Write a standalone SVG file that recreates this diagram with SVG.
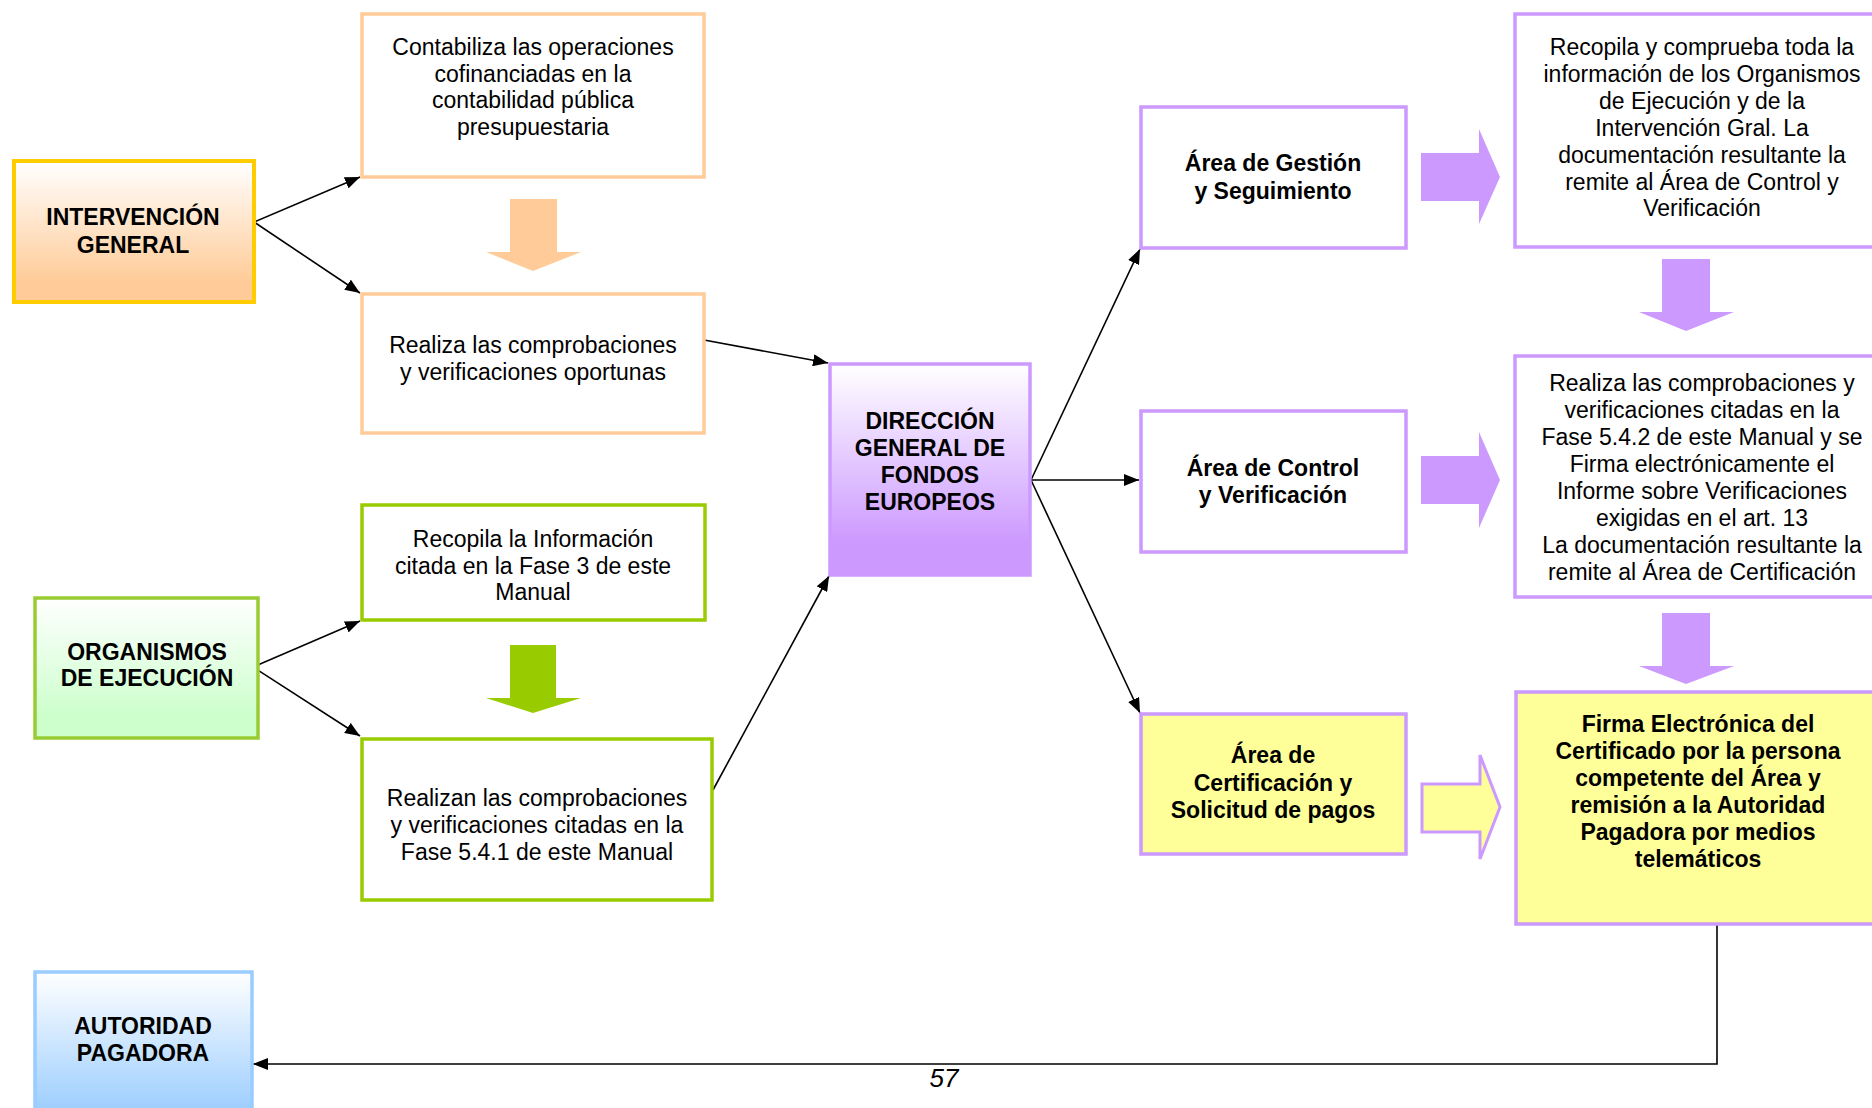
<svg xmlns="http://www.w3.org/2000/svg" width="1872" height="1108" viewBox="0 0 1872 1108">
<style>
text{font-family:"Liberation Sans",Arial,sans-serif;font-size:23px;fill:#000;text-anchor:middle}
.b{font-weight:bold}
.box{stroke-width:3.5}
.or{stroke:#FFCC99;fill:#fff}
.gr{stroke:#99CC00;fill:#fff}
.pu{stroke:#CC99FF;fill:#fff}
.py{stroke:#CC99FF;fill:#FFFF99}
.con{stroke:#000;stroke-width:1.6;fill:none}
</style>
<defs>
<linearGradient id="gOr" x1="0" y1="0" x2="0" y2="1"><stop offset="0" stop-color="#fff"/><stop offset="0.85" stop-color="#FFCC99"/></linearGradient>
<linearGradient id="gPu" x1="0" y1="0" x2="0" y2="1"><stop offset="0" stop-color="#fff"/><stop offset="0.85" stop-color="#CC99FF"/></linearGradient>
<linearGradient id="gGr" x1="0" y1="0" x2="0" y2="1"><stop offset="0" stop-color="#fff"/><stop offset="0.85" stop-color="#CCFFCC"/></linearGradient>
<linearGradient id="gBl" x1="0" y1="0" x2="0" y2="1"><stop offset="0" stop-color="#fff"/><stop offset="0.9" stop-color="#99CCFF"/></linearGradient>
<marker id="ah" markerUnits="userSpaceOnUse" markerWidth="16" markerHeight="12" refX="15" refY="6" orient="auto"><path d="M0,0 L15,6 L0,12 z" fill="#000"/></marker>
</defs>

<g id="connectors">
<line class="con" x1="254" y1="222" x2="360" y2="177" marker-end="url(#ah)"/>
<line class="con" x1="254" y1="222" x2="360" y2="293" marker-end="url(#ah)"/>
<line class="con" x1="253" y1="667" x2="360" y2="621" marker-end="url(#ah)"/>
<line class="con" x1="253" y1="667" x2="360" y2="736" marker-end="url(#ah)"/>
<line class="con" x1="704" y1="340" x2="828" y2="363" marker-end="url(#ah)"/>
<line class="con" x1="713" y1="790" x2="829" y2="576" marker-end="url(#ah)"/>
<line class="con" x1="1031" y1="480" x2="1140" y2="249" marker-end="url(#ah)"/>
<line class="con" x1="1031" y1="480" x2="1139" y2="480" marker-end="url(#ah)"/>
<line class="con" x1="1031" y1="480" x2="1140" y2="713" marker-end="url(#ah)"/>
<polyline class="con" points="1717,924 1717,1064 253,1064" marker-end="url(#ah)"/>
</g>

<g id="block-arrows">
<polygon fill="#FFCC99" points="510,199 557,199 557,252 581,252 533,271 486,252 510,252"/>
<polygon fill="#99CC00" points="510,645 556,645 556,698 581,698 533,713 486,698 510,698"/>
<polygon fill="#CC99FF" points="1421,153 1479,153 1479,129 1500,177 1479,224 1479,201 1421,201"/>
<polygon fill="#CC99FF" points="1421,456 1479,456 1479,432 1500,480 1479,528 1479,504 1421,504"/>
<polygon fill="#FFFF99" stroke="#CC99FF" stroke-width="3" points="1422,784 1480,784 1480,755 1500,807 1480,859 1480,832 1422,832"/>
<polygon fill="#CC99FF" points="1662,259 1710,259 1710,312 1734,312 1686,331 1639,312 1662,312"/>
<polygon fill="#CC99FF" points="1662,613 1710,613 1710,666 1734,666 1686,684 1639,666 1662,666"/>
</g>

<g id="n-intervencion">
<rect x="14" y="161" width="240" height="141" fill="url(#gOr)" stroke="#FFCC00" stroke-width="4"/>
<text class="b" x="133" y="225">INTERVENCIÓN</text>
<text class="b" x="133" y="253">GENERAL</text>
</g>
<g id="n-contabiliza">
<rect class="box or" x="362" y="14" width="342" height="163"/>
<text x="533" y="55">Contabiliza las operaciones</text>
<text x="533" y="82">cofinanciadas en la</text>
<text x="533" y="108">contabilidad pública</text>
<text x="533" y="135">presupuestaria</text>
</g>
<g id="n-realiza-ig">
<rect class="box or" x="362" y="294" width="342" height="139"/>
<text x="533" y="353">Realiza las comprobaciones</text>
<text x="533" y="380">y verificaciones oportunas</text>
</g>
<g id="n-organismos">
<rect x="35" y="598" width="223" height="140" fill="url(#gGr)" stroke="#99CC33" stroke-width="3.5"/>
<text class="b" x="147" y="660">ORGANISMOS</text>
<text class="b" x="147" y="686">DE EJECUCIÓN</text>
</g>
<g id="n-recopila-oe">
<rect class="box gr" x="362" y="505" width="343" height="115"/>
<text x="533" y="547">Recopila la Información</text>
<text x="533" y="574">citada en la Fase 3 de este</text>
<text x="533" y="600">Manual</text>
</g>
<g id="n-realizan-oe">
<rect class="box gr" x="362" y="739" width="350" height="161"/>
<text x="537" y="806">Realizan las comprobaciones</text>
<text x="537" y="833">y verificaciones citadas en la</text>
<text x="537" y="860">Fase 5.4.1 de este Manual</text>
</g>
<g id="n-autoridad">
<rect x="35" y="972" width="217" height="160" fill="url(#gBl)" stroke="#99CCFF" stroke-width="3.5"/>
<text class="b" x="143" y="1034">AUTORIDAD</text>
<text class="b" x="143" y="1061">PAGADORA</text>
</g>
<g id="n-direccion">
<rect x="830" y="364" width="200" height="211" fill="url(#gPu)" stroke="#CC99FF" stroke-width="3.5"/>
<text class="b" x="930" y="429">DIRECCIÓN</text>
<text class="b" x="930" y="456">GENERAL DE</text>
<text class="b" x="930" y="483">FONDOS</text>
<text class="b" x="930" y="510">EUROPEOS</text>
</g>
<g id="n-gestion">
<rect class="box pu" x="1141" y="107" width="265" height="141"/>
<text class="b" x="1273" y="171">Área de Gestión</text>
<text class="b" x="1273" y="199">y Seguimiento</text>
</g>
<g id="n-control">
<rect class="box pu" x="1141" y="411" width="265" height="141"/>
<text class="b" x="1273" y="476">Área de Control</text>
<text class="b" x="1273" y="503">y Verificación</text>
</g>
<g id="n-certificacion">
<rect class="box py" x="1141" y="714" width="265" height="140"/>
<text class="b" x="1273" y="763">Área de</text>
<text class="b" x="1273" y="791">Certificación y</text>
<text class="b" x="1273" y="818">Solicitud de pagos</text>
</g>
<g id="n-recopila-ags">
<rect class="box pu" x="1515" y="14" width="380" height="233"/>
<text x="1702" y="55">Recopila y comprueba toda la</text>
<text x="1702" y="82">información de los Organismos</text>
<text x="1702" y="109">de Ejecución y de la</text>
<text x="1702" y="136">Intervención Gral. La</text>
<text x="1702" y="163">documentación resultante la</text>
<text x="1702" y="190">remite al Área de Control y</text>
<text x="1702" y="216">Verificación</text>
</g>
<g id="n-realiza-acv">
<rect class="box pu" x="1515" y="356" width="380" height="241"/>
<text x="1702" y="391">Realiza las comprobaciones y</text>
<text x="1702" y="418">verificaciones citadas en la</text>
<text x="1702" y="445">Fase 5.4.2 de este Manual y se</text>
<text x="1702" y="472">Firma electrónicamente el</text>
<text x="1702" y="499">Informe sobre Verificaciones</text>
<text x="1702" y="526">exigidas en el art. 13</text>
<text x="1702" y="553">La documentación resultante la</text>
<text x="1702" y="580">remite al Área de Certificación</text>
</g>
<g id="n-firma">
<rect class="box py" x="1516" y="692" width="380" height="232"/>
<text class="b" x="1698" y="732">Firma Electrónica del</text>
<text class="b" x="1698" y="759">Certificado por la persona</text>
<text class="b" x="1698" y="786">competente del Área y</text>
<text class="b" x="1698" y="813">remisión a la Autoridad</text>
<text class="b" x="1698" y="840">Pagadora por medios</text>
<text class="b" x="1698" y="867">telemáticos</text>
</g>
<text x="944" y="1087" style="font-style:italic;font-size:26px">57</text>
</svg>
